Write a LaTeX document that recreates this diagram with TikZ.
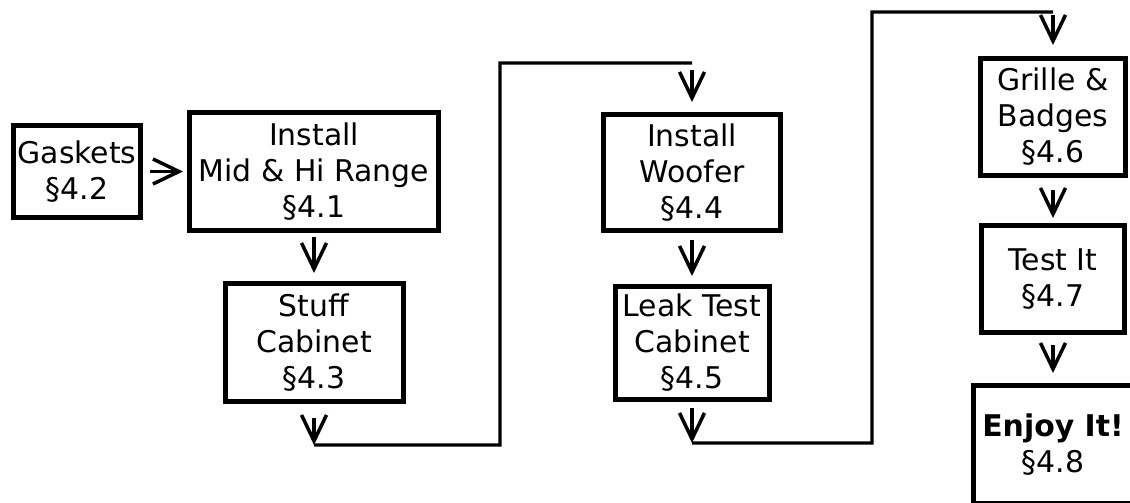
\documentclass[tikz,border=0pt]{standalone}
\usepackage{fontspec}
\setmainfont{DejaVu Sans}
\usetikzlibrary{positioning,arrows.meta}

\begin{document}
\begin{tikzpicture}[
    node distance=0.96cm,
    every node/.style={font=\fontsize{17}{20.5}\selectfont},
    stage/.style={draw, line width=0.1cm, align=center, inner sep=0pt},
    flow/.style={-{Straight Barb[length=0.52cm,width=0.5cm]}, line width=0.07cm, shorten <=0.14cm, shorten >=0.16cm},
    wire/.style={line width=0.065cm}
]
\useasboundingbox (0,0) rectangle (22.6,-10.04);
\clip (0,0) rectangle (22.6,-10.04);

% 第一列
\node[stage, minimum width=4.98cm, minimum height=2.36cm] (install) at (6.28,-3.43) {Install\\Mid \& Hi Range\\§4.1};
\node[stage, minimum width=2.54cm, minimum height=1.84cm, left=0.88cm of install] (gaskets) {Gaskets\\§4.2};
\node[stage, minimum width=3.56cm, minimum height=2.36cm, below=of install] (stuff) {Stuff\\Cabinet\\§4.3};

% 第二列
\node[stage, minimum width=3.54cm, minimum height=2.32cm] (woofer) at (13.84,-3.45) {Install\\Woofer\\§4.4};
\node[stage, minimum width=3.08cm, minimum height=2.26cm, below=1.02cm of woofer] (leak) {Leak Test\\Cabinet\\§4.5};

% 第三列
\node[stage, minimum width=2.9cm, minimum height=2.34cm] (grille) at (21.06,-2.34) {Grille \&\\Badges\\§4.6};
\node[stage, minimum width=2.86cm, minimum height=2.14cm, below=0.9cm of grille] (test) {Test It\\§4.7};
\node[stage, minimum width=3.18cm, minimum height=2.36cm, below=of test] (enjoy) {\textbf{Enjoy It!}\\§4.8};

% 转折点
\coordinate[below=0.82cm of stuff] (low1);
\coordinate[above=0.98cm of woofer] (high1);
\coordinate (riser1) at (10,-1.26);
\coordinate[below=0.82cm of leak] (low2);
\coordinate[above=0.88cm of grille] (high2);
\coordinate (riser2) at (17.44,-0.24);

% 箭头
\draw[flow, shorten >=0.08cm] (install.west -| gaskets.east) -- (install.west);
\draw[flow, shorten <=0.08cm] (stuff.north |- install.south) -- (stuff.north);
\draw[flow, shorten <=0.28cm, shorten >=0pt] (stuff) -- (low1);
\draw[wire] (low1) -| (riser1) -- (high1);
\draw[flow, shorten >=0.2cm] (high1) -- (woofer);
\draw[flow] (woofer.south) -- (woofer.south |- leak.north);
\draw[flow, shorten <=0.12cm, shorten >=0pt] (leak) -- (low2);
\draw[wire] (low2) -| (riser2) -- (high2);
\draw[flow, shorten <=0.06cm, shorten >=0.22cm] (high2) -- (grille);
\draw[flow, shorten <=0.24cm, shorten >=0.1cm] (grille) -- (test);
\draw[flow, shorten <=0.2cm, shorten >=0.2cm] (test) -- (enjoy);

\end{tikzpicture}
\end{document}
